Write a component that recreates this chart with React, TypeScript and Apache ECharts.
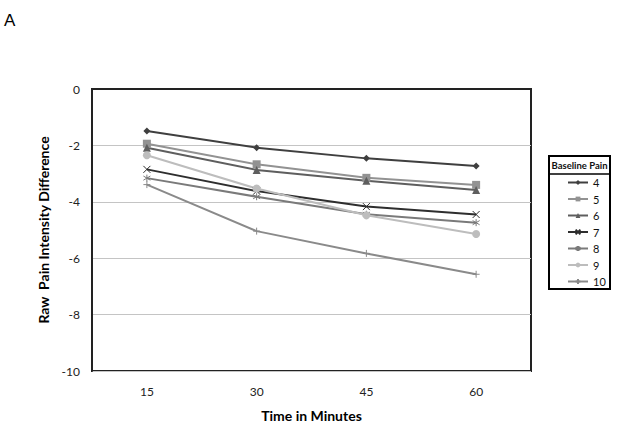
import React, { useEffect, useRef } from "react";
import * as echarts from "echarts";

const categories = ["15", "30", "45", "60"];
const seriesNames = ["4", "5", "6", "7", "8", "9", "10"];
const s4 = [-1.49, -2.08, -2.46, -2.73];
const s5 = [-1.94, -2.67, -3.15, -3.4];
const s6 = [-2.08, -2.87, -3.25, -3.58];
const s7 = [-2.85, -3.62, -4.17, -4.45];
const s8 = [-3.16, -3.82, -4.44, -4.74];
const s9 = [-2.35, -3.53, -4.48, -5.14];
const s10 = [-3.39, -5.04, -5.83, -6.57];
const yTicks = { min: -10, max: 0, interval: 2 };

const FONT = "Lato, 'Open Sans', sans-serif";

export default function App() {
  const ref = useRef<HTMLDivElement>(null);
  useEffect(() => {
    if (!ref.current) return;
    const chart = echarts.init(ref.current, null, { renderer: "svg" });
    const values = [s4, s5, s6, s7, s8, s9, s10];
    const colors = ["#3f3f3f", "#929292", "#5e5e5e", "#2e2e2e", "#7a7a7a", "#bdbdbd", "#8a8a8a"];
    const symbols = [
      "diamond",
      "rect",
      "triangle",
      "path://M0,0L10,10M10,0L0,10",
      "path://M5,0L5,10M0,2L10,8M10,2L0,8",
      "circle",
      "path://M5,0L5,10M0,5L10,5",
    ];
    const sizes = [7, 8, 8, 7, 7, 8, 7];
    const series = seriesNames.map((n, i) => ({
      name: n,
      type: "line",
      data: values[i],
      symbol: symbols[i],
      symbolSize: sizes[i],
      showAllSymbol: true,
      lineStyle: { color: colors[i], width: 2 },
      itemStyle: { color: colors[i], borderColor: colors[i], borderWidth: i === 3 || i === 4 || i === 6 ? 1 : 0 },
    }));
    chart.setOption({
      animation: false,
      backgroundColor: "#fff",
      textStyle: { fontFamily: FONT },
      grid: {
        left: 92,
        top: 89,
        right: 93,
        bottom: 52,
        outerBoundsMode: "none",
        containLabel: false,
        show: true,
        borderColor: "#222",
        borderWidth: 2,
      },
      xAxis: {
        type: "category",
        data: categories,
        boundaryGap: true,
        axisTick: { show: false },
        axisLine: { show: true, lineStyle: { color: "#222", width: 2 } },
        axisLabel: { color: "#222", fontSize: 12, margin: 14, fontFamily: FONT },
        name: "Time in Minutes",
        nameLocation: "middle",
        nameGap: 37,
        nameTextStyle: { fontSize: 14, fontWeight: "bold", color: "#000", fontFamily: FONT },
      },
      yAxis: {
        type: "value",
        min: yTicks.min,
        max: yTicks.max,
        interval: yTicks.interval,
        axisLine: { show: true, lineStyle: { color: "#222", width: 2 } },
        axisTick: { show: false },
        splitLine: { lineStyle: { color: "#c4c4c4", width: 1 } },
        axisLabel: { color: "#222", fontSize: 12, margin: 12, fontFamily: FONT },
        name: "Raw  Pain Intensity Difference",
        nameLocation: "middle",
        nameGap: 40,
        nameTextStyle: { fontSize: 14, fontWeight: "bold", color: "#000", fontFamily: FONT },
      },
      legend: {
        orient: "vertical",
        left: 567,
        top: 177,
        itemWidth: 20,
        itemHeight: 6,
        itemGap: 5.5,
        padding: 0,
        textStyle: { fontSize: 11, lineHeight: 11, color: "#111", fontFamily: FONT },
        data: seriesNames,
      },
      graphic: [
        {
          type: "text",
          left: 4,
          top: 12,
          style: { text: "A", fontSize: 17, fill: "#000", fontFamily: "'Liberation Sans', Arial, sans-serif" },
        },
        {
          type: "rect",
          shape: { x: 549, y: 156, width: 61, height: 133 },
          style: { fill: "none", stroke: "#000", lineWidth: 2 },
          z: 10,
        },
        {
          type: "line",
          shape: { x1: 549, y1: 174, x2: 610, y2: 174 },
          style: { stroke: "#000", lineWidth: 1.5 },
          z: 10,
        },
        {
          type: "text",
          x: 579.5,
          y: 165,
          style: {
            text: "Baseline Pain",
            fontSize: 9.5,
            fontWeight: "bold",
            fill: "#111",
            align: "center",
            verticalAlign: "middle",
            fontFamily: FONT,
          },
          z: 10,
        },
      ],
      series,
    });
    return () => chart.dispose();
  }, []);
  return <div ref={ref} style={{ position: "absolute", left: 0, top: 0, width: 624, height: 423 }} />;
}
